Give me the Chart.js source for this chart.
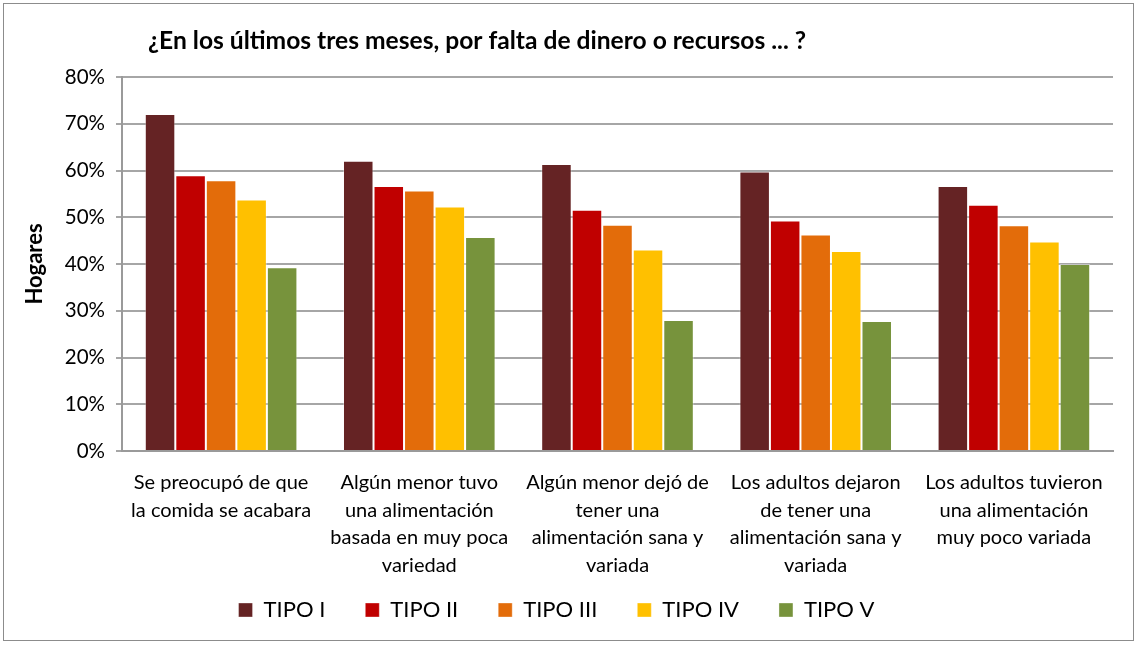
<!DOCTYPE html>
<html>
<head>
<meta charset="utf-8">
<script src="https://cdn.jsdelivr.net/npm/chart.js@4"></script>
<style>
    body { margin: 0; background: #fff; }
    #wrap { position: relative; width: 1139px; height: 652px; }
    #frame { position: absolute; left: 3px; top: 3px; width: 1129px; height: 636px; border: 1px solid #8c8c8c; }
    canvas { position: absolute; left: 0; top: 0; }
</style>
</head>
<body>
<div id="wrap">
    <div id="frame"></div>
    <canvas id="chart" width="1139" height="652"></canvas>
</div>
<script>
// Categories (wrapped the same way as the original)
const categories = [
    ['Se preocupó de que', 'la comida se acabara'],
    ['Algún menor tuvo', 'una alimentación', 'basada en muy poca', 'variedad'],
    ['Algún menor dejó de', 'tener una', 'alimentación sana y', 'variada'],
    ['Los adultos dejaron', 'de tener una', 'alimentación sana y', 'variada'],
    ['Los adultos tuvieron', 'una alimentación', 'muy poco variada']
];

const seriesNames = ['TIPO I', 'TIPO II', 'TIPO III', 'TIPO IV', 'TIPO V'];
const seriesColors = ['#652324', '#c00000', '#e36c0a', '#ffc000', '#77933c'];

// Percent of households, per series
const tipo1 = [72.1, 62.1, 61.4, 59.8, 56.7];
const tipo2 = [59.0, 56.7, 51.6, 49.3, 52.7];
const tipo3 = [57.9, 55.7, 48.4, 46.3, 48.3];
const tipo4 = [53.8, 52.3, 43.1, 42.8, 44.8];
const tipo5 = [39.3, 45.8, 28.0, 27.8, 40.0];

const yTicks = [0, 10, 20, 30, 40, 50, 60, 70, 80];

const titleText = '¿En los últimos tres meses, por falta de dinero o recursos ... ?';

const FONT = 'Lato, "Open Sans", sans-serif';

// Title drawn slightly right of the plot's left edge, like the original
const titlePlugin = {
    id: 'leftTitle',
    afterDraw(chart) {
        const ctx = chart.ctx;
        ctx.save();
        ctx.font = 'bold 24.6px ' + FONT;
        ctx.fillStyle = '#000';
        ctx.textBaseline = 'middle';
        ctx.fillText(titleText, chart.chartArea.left + 26, 41);
        ctx.restore();
    }
};

// The category labels need a tall axis box; pull the legend up into the gap below them
const legendShift = {
    id: 'legendShift',
    afterLayout(chart) {
        const lg = chart.legend;
        if (lg) {
            lg.top -= 21;
            lg.bottom -= 21;
        }
    }
};

const allSeries = [tipo1, tipo2, tipo3, tipo4, tipo5];

const ctx = document.getElementById('chart').getContext('2d');
new Chart(ctx, {
    type: 'bar',
    data: {
        labels: categories,
        datasets: allSeries.map((vals, i) => ({
            label: seriesNames[i],
            data: vals,
            backgroundColor: seriesColors[i],
            borderColor: 'rgba(255,255,255,0.35)',
            borderWidth: 1,
            categoryPercentage: 0.77,
            barPercentage: 1.0
        }))
    },
    options: {
        responsive: false,
        animation: false,
        layout: { padding: { left: 0, right: 26, top: 77, bottom: 0 } },
        plugins: {
            title: { display: false },
            tooltip: { enabled: false },
            legend: {
                position: 'bottom',
                labels: {
                    boxWidth: 14,
                    boxHeight: 14,
                    padding: 40,
                    color: '#000',
                    font: { family: FONT, size: 22 }
                }
            }
        },
        scales: {
            x: {
                grid: { display: false },
                border: { display: true, color: '#9a9a9a', width: 2 },
                ticks: {
                    color: '#000',
                    padding: 10,
                    maxRotation: 0,
                    autoSkip: false,
                    font: { family: FONT, size: 20, lineHeight: 1.38 }
                },
                afterFit(scale) { scale.height = 129; }
            },
            y: {
                min: 0,
                max: 80,
                afterBuildTicks(scale) {
                    scale.ticks = yTicks.map(v => ({ value: v }));
                },
                grid: {
                    color: '#a6a6a6',
                    lineWidth: 2,
                    tickLength: 6
                },
                border: { display: true, color: '#9a9a9a', width: 2 },
                ticks: {
                    color: '#000',
                    padding: 11,
                    font: { family: FONT, size: 20.5 },
                    callback: v => v + '%'
                },
                title: {
                    display: true,
                    text: 'Hogares',
                    color: '#000',
                    padding: { top: 22, bottom: 0 },
                    font: { family: FONT, size: 22, weight: 'bold' }
                },
                afterFit(scale) { scale.width = 122; }
            }
        }
    },
    plugins: [titlePlugin, legendShift]
});
</script>
</body>
</html>
